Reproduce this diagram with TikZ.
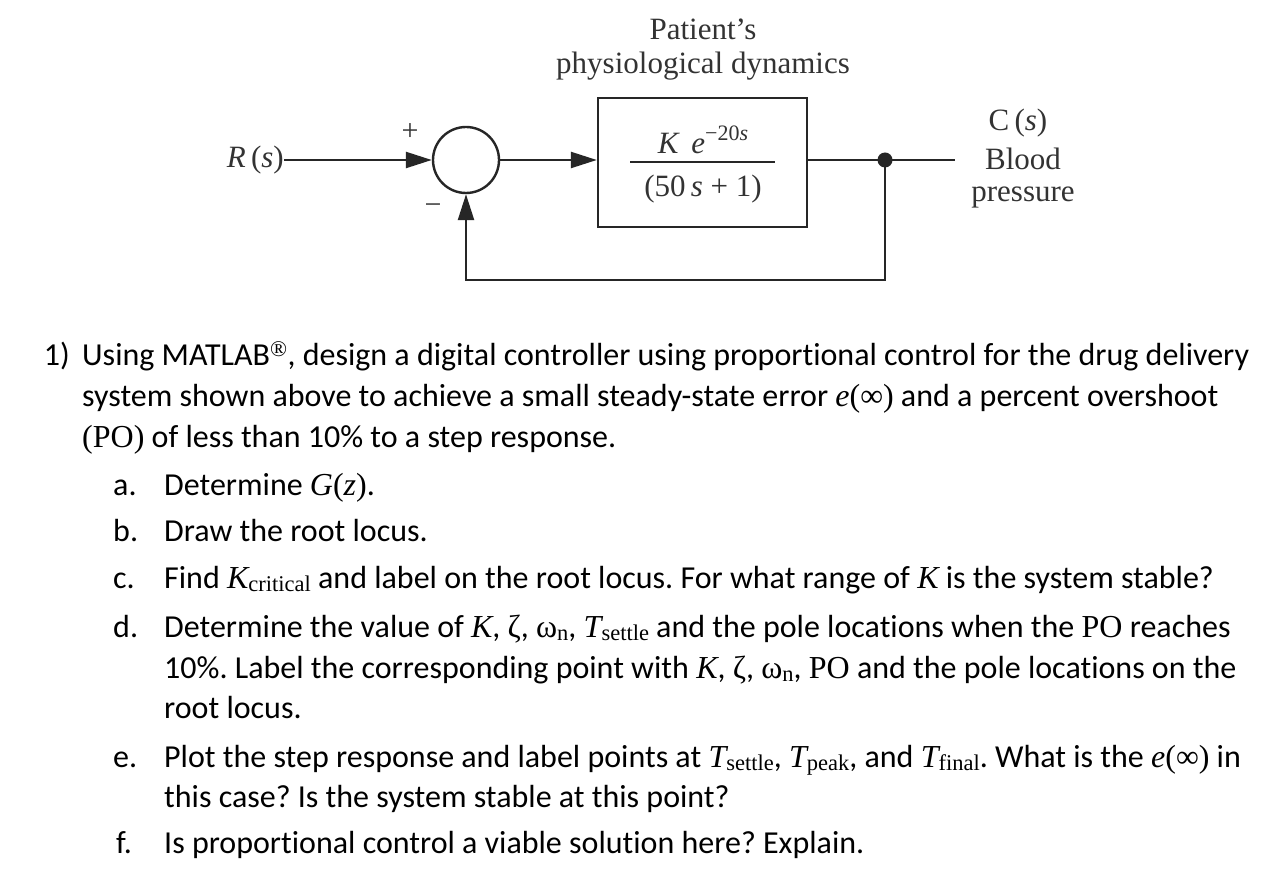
\documentclass[tikz,border=0pt]{standalone}
\usepackage{fontspec}
\setmainfont{Carlito}[Ligatures=CommonOff]
\newfontfamily\tnr{Liberation Serif}
\usetikzlibrary{arrows.meta}
\definecolor{diag}{HTML}{333333}
\definecolor{diagline}{HTML}{262626}
\newcommand\tmi[1]{{\tnr\itshape #1}}
\newcommand\tmr[1]{{\tnr #1}}
\newcommand\tsub[1]{\raisebox{-0.1em}{\tnr\fontsize{22.5}{24}\selectfont #1}}
\frenchspacing
\begin{document}
\begin{tikzpicture}[x=1pt,y=-1pt,
  body/.style={anchor=base west, inner sep=0pt, font=\fontsize{32}{38}\selectfont},
  lbl/.style={inner sep=0pt, text=diag, font=\tnr\fontsize{31}{34}\selectfont},
  wire/.style={draw=diagline, line width=2.4pt, line join=miter},
  arr/.style={wire, -{Triangle[length=26pt,width=16pt]}},
]
\useasboundingbox[fill=white] (0,0) rectangle (1272,874);

% ---------- block diagram ----------
\node[circle, draw=diagline, line width=2.4pt, minimum size=66pt, inner sep=0pt] (sum) at (466,160) {};
\node[draw=diagline, line width=2.4pt, minimum width=209pt, minimum height=129pt, inner sep=0pt] (plant) at (702.5,162.5) {};
\node[lbl, anchor=base east] (R) at (284,168) {\itshape R\,\upshape(\itshape s\upshape)};
\node[lbl, font=\tnr\fontsize{30}{32}\selectfont] (plus) at (410,132) {+};
\node[lbl, font=\tnr\fontsize{30}{32}\selectfont] (minus) at (433,209) {−};
\node[lbl, anchor=base] (pat1) at (703,40) {Patient’s};
\node[lbl, anchor=base] (pat2) at (703,74) {physiological dynamics};
\node[lbl, anchor=base] (num) at (703,154) {\itshape K\, e\upshape\raisebox{0.42em}{\fontsize{22}{22}\selectfont −20\itshape s}};
\node[lbl, anchor=base] (den) at (703,197) {(50\,\itshape s\upshape\ + 1)};
\draw[draw=diagline, line width=1.6pt] (630,162) -- (775,162);
\node[lbl, anchor=base] (cs) at (1018,131) {C\,(\itshape s\upshape)};
\node[lbl, anchor=base] (blood) at (1023,170) {Blood};
\node[lbl, anchor=base] (press) at (1023,202) {pressure};
\node[circle, fill=diagline, minimum size=15pt, inner sep=0pt] (dot) at (885,160) {};
\coordinate (out) at (955,160);
\coordinate (fb) at (0,280);

\draw[arr] (sum.west -| R.east) -- (sum.west);
\draw[arr] (sum.east) -- (sum.east -| plant.west);
\draw[wire] (sum.east -| plant.east) -- (dot.center) -- (out);
\draw[arr] (dot.center) -- (dot.center |- fb) -- (sum.south |- fb) -- (sum.south);

% ---------- question text ----------
\node[body, anchor=base east] (n1) at (70,366) {1)};
\node[body] (l1) at (82,366) {Using MATLAB\textsuperscript{\tnr ®}, design a digital controller using proportional control for the drug delivery};
\node[body] (l2) at (82,407) {system shown above to achieve a small steady-state error \tmi{e}\tmr{(∞)} and a percent overshoot};
\node[body] (l3) at (82,447) {\tmr{(PO)} of less than 10\% to a step response.};

\node[body] (na) at (113,495) {a.};
\node[body] (la) at (164,495) {Determine \tmi{G}\tmr{(}\tmi{z}\tmr{)}.};
\node[body] (nb) at (113,541) {b.};
\node[body] (lb) at (164,541) {Draw the root locus.};
\node[body] (nc) at (113,588) {c.};
\node[body] (lc) at (164,588) {Find \tmi{K}\tsub{critical} and label on the root locus. For what range of \tmi{K} is the system stable?};
\node[body] (nd) at (113,637) {d.};
\node[body] (ld1) at (164,637) {Determine the value of \tmi{K}, \tmr{ζ}, \tmr{ω}\tsub{n}, \tmi{T}\tsub{settle} and the pole locations when the \tmr{PO} reaches};
\node[body] (ld2) at (164,678) {10\%. Label the corresponding point with \tmi{K}, \tmr{ζ}, \tmr{ω}\tsub{n}, \tmr{PO} and the pole locations on the};
\node[body] (ld3) at (164,718) {root locus.};
\node[body] (ne) at (113,767) {e.};
\node[body] (le1) at (164,767) {Plot the step response and label points at \tmi{T}\tsub{settle}, \tmi{T}\tsub{peak}, and \tmi{T}\tsub{final}. What is the \tmi{e}\tmr{(∞)} in};
\node[body] (le2) at (164,807) {this case? Is the system stable at this point?};
\node[body] (nf) at (116,853) {f.};
\node[body] (lf) at (164,853) {Is proportional control a viable solution here? Explain.};
\end{tikzpicture}
\end{document}
